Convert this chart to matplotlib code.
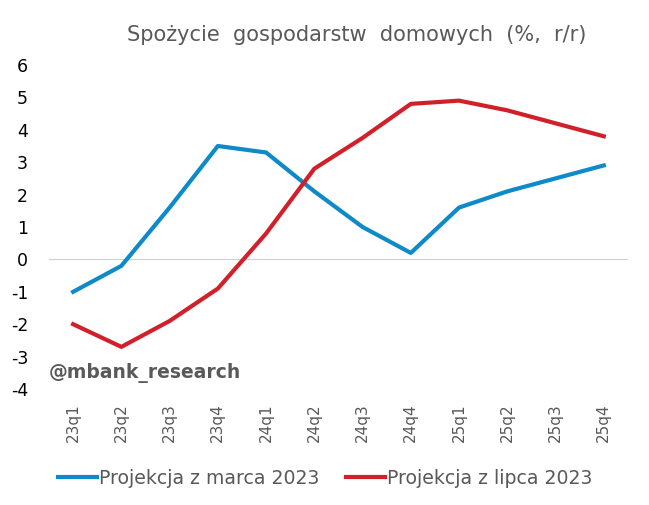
import matplotlib
matplotlib.use('Agg')
import matplotlib.pyplot as plt

quarters = ['23q1', '23q2', '23q3', '23q4', '24q1', '24q2',
            '24q3', '24q4', '25q1', '25q2', '25q3', '25q4']
marzec = [-1.0, -0.2, 1.6, 3.5, 3.3, 2.1, 1.0, 0.2, 1.6, 2.1, 2.5, 2.9]
lipiec = [-2.0, -2.7, -1.9, -0.9, 0.8, 2.8, 3.75, 4.8, 4.9, 4.6, 4.2, 3.8]
yticks = [-4, -3, -2, -1, 0, 1, 2, 3, 4, 5, 6]

gray = '#595959'
fig = plt.figure(figsize=[6.49, 5.05], dpi=100)
ax = fig.add_axes([0.0755, 0.2297, 0.892, 0.6416])

x = range(len(quarters))
ax.plot(x, marzec, color='#0e8ac9', lw=3, label='Projekcja z marca 2023')
ax.plot(x, lipiec, color='#d2202a', lw=3, label='Projekcja z lipca 2023')
ax.axhline(0, color='#d0d0d0', lw=0.8, zorder=0)

ax.set_xlim(-0.5, len(quarters) - 0.5)
ax.set_ylim(-4, 6)
ax.set_yticks(yticks)
ax.set_yticklabels([str(v) for v in yticks], fontsize=12.5, color='black')
ax.set_xticks(list(x))
ax.set_xticklabels(quarters, rotation=90, fontsize=11, color=gray)
ax.tick_params(axis='y', length=0, pad=15)
ax.tick_params(axis='x', length=0, pad=10)
for s in ax.spines.values():
    s.set_visible(False)

ax.text(-0.5, -3.5, '@mbank_research', fontsize=13.5, fontweight='bold',
        color=gray, va='center', ha='left')
fig.text(0.55, 0.931, 'Spożycie  gospodarstw  domowych  (%,  r/r)',
         fontsize=15, color=gray, ha='center', va='center')

ax.legend(loc='center left', bbox_to_anchor=(0.0156, -0.275), ncol=2,
          frameon=False, borderpad=0, borderaxespad=0,
          fontsize=13.6, labelcolor=gray, handlelength=2.05, handletextpad=0.12,
          columnspacing=1.4)

fig.savefig('out.png', dpi=100)
